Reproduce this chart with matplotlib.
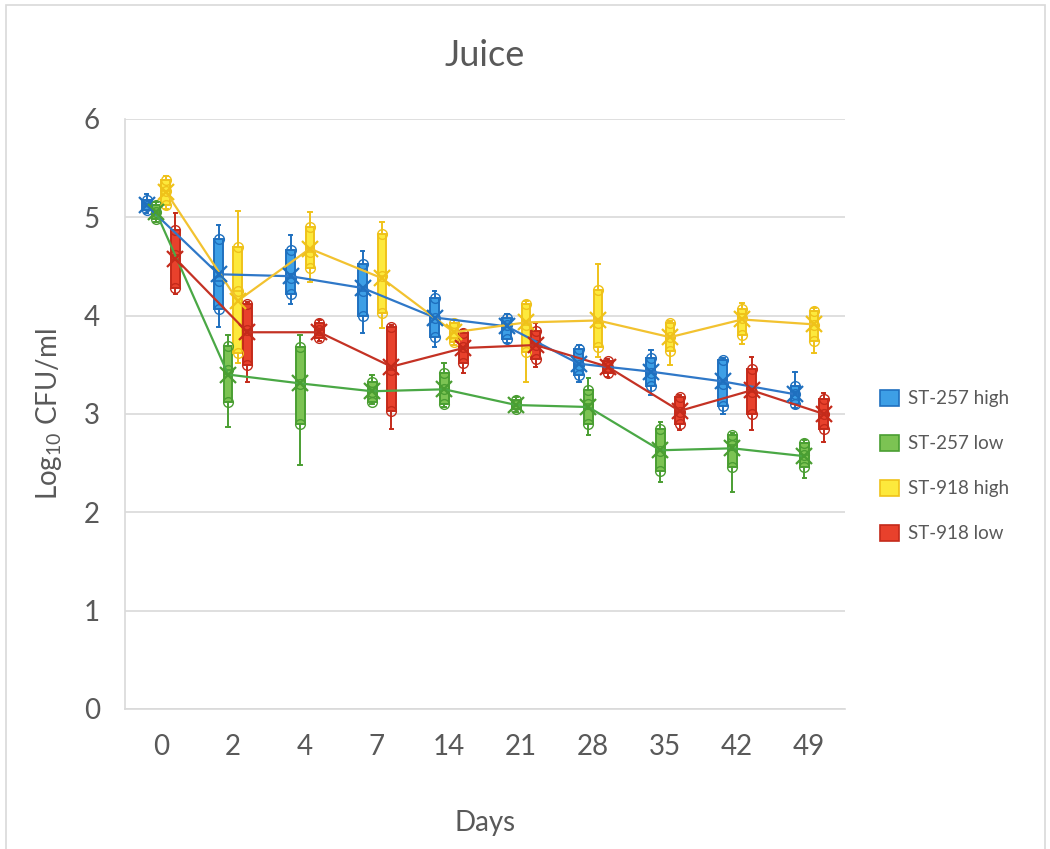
import matplotlib
matplotlib.use("Agg")
import matplotlib.pyplot as plt
import matplotlib.patches as mpatches
import numpy as np

plt.rcParams['font.family'] = ['Lato', 'DejaVu Sans']
plt.rcParams['mathtext.fontset'] = 'custom'
plt.rcParams['mathtext.rm'] = 'Lato'
plt.rcParams['mathtext.it'] = 'Lato'

days = ["0", "2", "4", "7", "14", "21", "28", "35", "42", "49"]
names = ["ST-257 high", "ST-257 low", "ST-918 high", "ST-918 low"]

# ST-257 high
b_min = [5.04, 3.88, 4.12, 3.82, 3.68, 3.72, 3.32, 3.19, 3.00, 3.06]
b_q1 = [5.07, 4.07, 4.22, 4.00, 3.78, 3.76, 3.40, 3.28, 3.08, 3.10]
b_med = [5.11, 4.35, 4.38, 4.25, 3.98, 3.90, 3.50, 3.42, 3.30, 3.20]
b_q3 = [5.17, 4.78, 4.67, 4.52, 4.18, 3.98, 3.66, 3.57, 3.55, 3.28]
b_max = [5.24, 4.92, 4.82, 4.66, 4.25, 4.02, 3.70, 3.65, 3.57, 3.43]
b_mean = [5.12, 4.42, 4.40, 4.28, 3.98, 3.89, 3.51, 3.43, 3.33, 3.20]

# ST-257 low
g_min = [4.95, 2.87, 2.48, 3.10, 3.07, 3.02, 2.79, 2.31, 2.21, 2.35]
g_q1 = [4.98, 3.12, 2.90, 3.12, 3.10, 3.05, 2.90, 2.42, 2.46, 2.46]
g_med = [5.05, 3.45, 3.30, 3.22, 3.25, 3.09, 3.10, 2.62, 2.68, 2.58]
g_q3 = [5.12, 3.69, 3.68, 3.32, 3.42, 3.14, 3.24, 2.85, 2.79, 2.70]
g_max = [5.15, 3.80, 3.80, 3.40, 3.52, 3.17, 3.37, 2.92, 2.81, 2.73]
g_mean = [5.05, 3.40, 3.31, 3.23, 3.25, 3.09, 3.07, 2.63, 2.65, 2.57]

# ST-918 high
y_min = [5.08, 3.52, 4.34, 3.87, 3.70, 3.32, 3.58, 3.50, 3.71, 3.62]
y_q1 = [5.12, 3.62, 4.48, 4.03, 3.73, 3.63, 3.68, 3.64, 3.80, 3.74]
y_med = [5.27, 4.25, 4.65, 4.40, 3.82, 3.90, 3.92, 3.78, 3.97, 3.90]
y_q3 = [5.38, 4.70, 4.90, 4.83, 3.92, 4.12, 4.26, 3.92, 4.07, 4.05]
y_max = [5.42, 5.06, 5.05, 4.95, 3.95, 4.15, 4.52, 3.94, 4.13, 4.08]
y_mean = [5.26, 4.15, 4.68, 4.38, 3.83, 3.93, 3.95, 3.78, 3.96, 3.91]

# ST-918 low
r_min = [4.22, 3.32, 3.74, 2.85, 3.42, 3.48, 3.38, 2.84, 2.84, 2.71]
r_q1 = [4.28, 3.50, 3.77, 3.03, 3.52, 3.56, 3.42, 2.90, 3.00, 2.85]
r_med = [4.62, 3.85, 3.85, 3.45, 3.68, 3.70, 3.48, 3.02, 3.22, 3.00]
r_q3 = [4.87, 4.12, 3.92, 3.88, 3.82, 3.84, 3.54, 3.17, 3.46, 3.15]
r_max = [5.04, 4.14, 3.95, 3.90, 3.85, 3.92, 3.56, 3.19, 3.58, 3.21]
r_mean = [4.58, 3.83, 3.83, 3.48, 3.67, 3.70, 3.48, 3.03, 3.24, 3.00]

series = [
    (b_min, b_q1, b_med, b_q3, b_max, b_mean),
    (g_min, g_q1, g_med, g_q3, g_max, g_mean),
    (y_min, y_q1, y_med, y_q3, y_max, y_mean),
    (r_min, r_q1, r_med, r_q3, r_max, r_mean),
]
fills = ['#3d9fe6', '#7cc353', '#fde93c', '#e8412c']
edges = ['#1f70bf', '#4a9e32', '#efc21a', '#c42a1a']
lines = ['#2f78c8', '#4aa845', '#f2c230', '#c43224']
offsets = [-0.2, -0.067, 0.067, 0.2]
text_col = '#595959'

fig = plt.figure(figsize=(10.5, 8.49), dpi=100)
ax = fig.add_axes([0.119, 0.165, 0.686, 0.695])

x = np.arange(len(days))
for k, (mn, q1, md, q3, mx, mean) in enumerate(series):
    stats = [dict(whislo=mn[i], q1=q1[i], med=md[i], q3=q3[i], whishi=mx[i],
                  mean=mean[i], fliers=[]) for i in range(len(days))]
    pos = x + offsets[k]
    ax.bxp(stats, positions=pos, widths=0.12, patch_artist=True, showmeans=False,
           boxprops=dict(facecolor=fills[k], edgecolor=edges[k], linewidth=1.4),
           medianprops=dict(color=edges[k], linewidth=1.2),
           whiskerprops=dict(color=edges[k], linewidth=1.4),
           capprops=dict(color=edges[k], linewidth=1.4),
           capwidths=0.05, manage_ticks=False, zorder=3)
    # inner points
    for vals in (q1, md, q3):
        ax.plot(pos, vals, 'o', ms=7, mfc='none', mec=edges[k], mew=1.0, zorder=4)
    ax.plot(pos, mean, '-', color=lines[k], lw=1.6, zorder=5)
    ax.plot(pos, mean, 'x', color=edges[k], ms=12, mew=1.6, zorder=6)

ax.set_xlim(-0.5, len(days) - 0.5)
ax.set_ylim(0, 6)
ax.set_xticks(x)
ax.set_xticklabels(days)
ax.set_yticks(range(7))
ax.tick_params(length=0, labelsize=20, colors=text_col, pad=18)
ax.tick_params(axis='y', pad=18)
ax.grid(axis='y', color='#d9d9d9', lw=1.2, zorder=0)
ax.set_axisbelow(True)
for s in ['top', 'right']:
    ax.spines[s].set_visible(False)
for s in ['left', 'bottom']:
    ax.spines[s].set_color('#d9d9d9')
    ax.spines[s].set_linewidth(1.2)

ax.set_title("Juice", fontsize=26, color=text_col, pad=38)
ax.set_xlabel("Days", fontsize=20, color=text_col, labelpad=36)
ax.set_ylabel("Log$_{10}$ CFU/ml", fontsize=20, color=text_col, labelpad=14)

handles = [mpatches.Patch(facecolor=fills[k], edgecolor=edges[k], lw=1.2) for k in range(4)]
fig.legend(handles, names, loc='center left', bbox_to_anchor=(0.822, 1 - 466 / 849),
           frameon=False, fontsize=13.5, labelcolor=text_col, labelspacing=1.45,
           handlelength=1.0, handleheight=1.0, handletextpad=0.5)

fig.patches.append(mpatches.Rectangle((0.006, -0.01), 0.989, 1.004, transform=fig.transFigure,
                                      fill=False, edgecolor='#d9d9d9', lw=1.2))

fig.savefig("out.png", dpi=100, facecolor='white')
